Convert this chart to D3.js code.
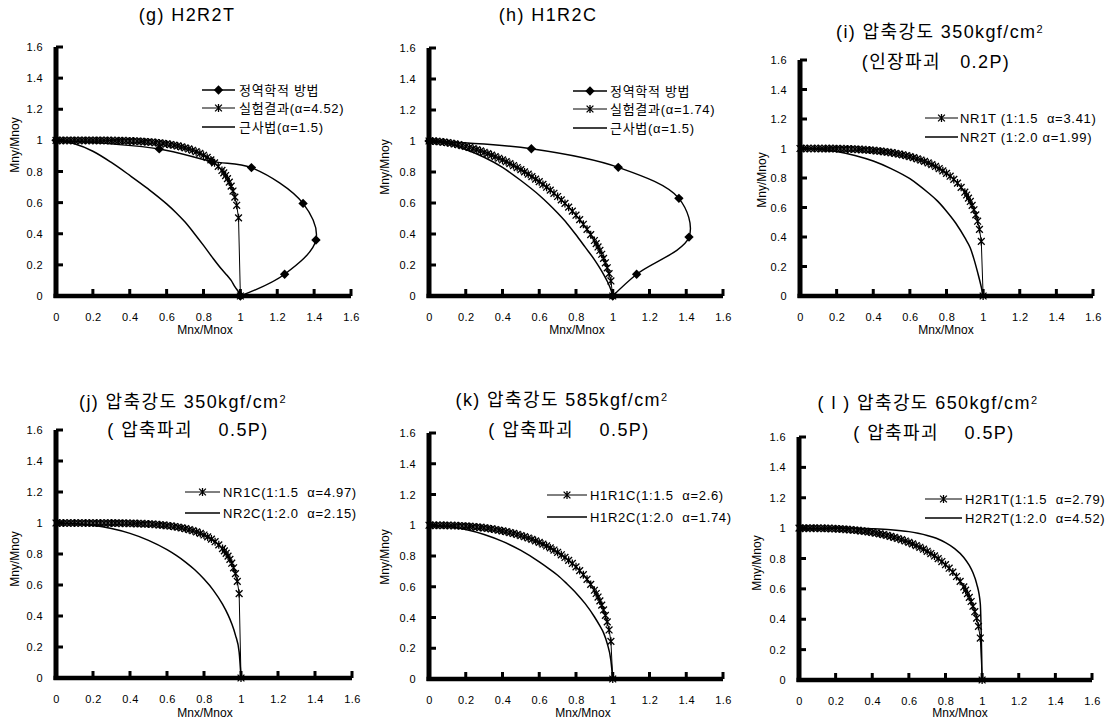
<!DOCTYPE html>
<html>
<head>
<meta charset="UTF-8">
<script src="https://d3js.org/d3.v7.min.js"></script>
<title>Mnx/Mnox - Mny/Mnoy</title>
<style>
body { margin: 0; background: #fff; }
text { font-family: "Liberation Sans", Arial, "Noto Sans CJK KR", sans-serif; fill: #000; }
.tick text { font-size: 11px; letter-spacing: 0.4px; }
.ttl { font-size: 18px; letter-spacing: 1.4px; }
.leg { font-size: 13px; letter-spacing: 0.7px; white-space: pre; }
.axt { font-size: 12px; }
</style>
</head>
<body>
<script>
// axis ticks, shared by every panel
const tickVals = [0, 0.2, 0.4, 0.6, 0.8, 1, 1.2, 1.4, 1.6];
const tickLabels = ["0", "0.2", "0.4", "0.6", "0.8", "1", "1.2", "1.4", "1.6"];

// x positions of the test points (x markers)
const xTest = [0,0.02,0.04,0.06,0.08,0.1,0.12,0.14,0.16,0.18,0.2,0.22,0.24,0.26,0.28,0.3,0.32,0.34,0.36,0.38,
  0.4,0.42,0.44,0.46,0.48,0.5,0.52,0.54,0.56,0.58,0.6,0.62,0.64,0.66,0.68,0.7,0.72,0.74,0.76,0.78,
  0.8,0.82,0.84,0.86,0.88,0.9,0.91,0.92,0.93,0.94,0.95,0.96,0.97,0.98,0.99,1];

const gTestY = [1,1,1,1,1,1,1,1,1,0.9999, 0.9998,0.9998,0.9997,0.9995,0.9993, 0.999,0.9987,0.9983,0.9978,0.9972,
  0.9965,0.9956,0.9945,0.9933,0.9919, 0.9902,0.9883,0.986,0.9834,0.9805, 0.9771,0.9733,0.9689,0.964,0.9584,
  0.952,0.9448,0.9366,0.9273,0.9166, 0.9045,0.8906,0.8744,0.8557,0.8334,
  0.8068,0.7912,0.7739,0.7543,0.7319,0.7057,0.6744,0.6353,0.583,0.5021, 0];
const hTestY = [1,0.9994,0.9979,0.9957,0.9929, 0.9895,0.9856,0.9811,0.9761,0.9706, 0.9646,0.9581,0.9511,0.9437,0.9357,
  0.9273,0.9184,0.909,0.8991,0.8887, 0.8777,0.8663,0.8543,0.8418,0.8287, 0.8151,0.8008,0.786,0.7705,0.7544,
  0.7376,0.7201,0.7018,0.6827,0.6628, 0.6419,0.6201,0.5972,0.5733,0.5478, 0.5211,0.4929,0.4627,0.4305,0.3959,
  0.3581,0.3378,0.3164,0.2937,0.2694,0.2431,0.2143,0.1821,0.1446,0.097, 0];
const iTestY = [1,1,1,1,1, 0.9999,0.9998,0.9996,0.9994,0.9992, 0.9988,0.9983,0.9977,0.997,0.9962,
  0.9951,0.9939,0.9925,0.9909,0.989, 0.9869,0.9845,0.9818,0.9787,0.9753, 0.9714,0.9672,0.9625,0.9572,0.9515,
  0.9451,0.9381,0.9303,0.9218,0.9124, 0.9021,0.8907,0.8781,0.8641,0.8486, 0.8314,0.8121,0.7903,0.7654,0.7368,
  0.7037,0.6848,0.6639,0.6408,0.6147,0.5848,0.5497,0.507,0.4518,0.37, 0];
const jTestY = [1,1,1,1,1,1,1,1,1,1, 0.9999,0.9999,0.9998,0.9997,0.9996, 0.9995,0.9993,0.999,0.9987,0.9984,
  0.9979,0.9973,0.9966,0.9957,0.9947, 0.9935,0.9921,0.9904,0.9885,0.9862, 0.9836,0.9806,0.9771,0.9731,0.9685,
  0.9632,0.9572,0.9503,0.9423,0.9332, 0.9226,0.9104,0.8961,0.8792,0.8591,
  0.8347,0.8205,0.8046,0.7864,0.7654,0.7407,0.711,0.6737,0.6234,0.5445, 0];
const kTestY = [1,1,0.9999,0.9997,0.9995, 0.999,0.9984,0.9977,0.9967,0.9955, 0.9941,0.9925,0.9905,0.9883,0.9858,
  0.983,0.9798,0.9763,0.9724,0.9681, 0.9634,0.9583,0.9527,0.9467,0.9401, 0.933,0.9254,0.9171,0.9082,0.8986,
  0.8883,0.8773,0.8654,0.8526,0.8388, 0.824,0.8079,0.7906,0.7719,0.7514, 0.7294,0.705,0.6783,0.6486,0.6152,
  0.5772,0.5561,0.5332,0.5081,0.4804,0.4492,0.4136,0.3714,0.3188,0.2449, 0];
const lTestY = [1,1,1,0.9999,0.9997, 0.9994,0.999,0.9985,0.9978,0.997, 0.996,0.9947,0.9933,0.9916,0.9896,
  0.9874,0.9849,0.9821,0.9789,0.9754, 0.9715,0.9672,0.9625,0.9573,0.9517, 0.9456,0.9389,0.9317,0.9238,0.9153,
  0.9061,0.8962,0.8854,0.8738,0.8612, 0.8475,0.8327,0.8167,0.7992,0.78, 0.7591,0.736,0.7103,0.6815,0.6495,
  0.6125,0.5918,0.5692,0.5444,0.5168,0.4857,0.4498,0.4071,0.3532,0.2764, 0];

// x positions of the plain lines
const xLine = [0,0.1,0.2,0.3,0.4,0.5,0.6,0.65,0.7,0.75,0.8,0.85,0.9,0.93,0.95,0.97,0.99,1];
const gApproxY = [1,0.978,0.93,0.858,0.775,0.688,0.592,0.537,0.475,0.402,0.325,0.245,0.17,0.13,0.1,0.06,0.025,0];
const hApproxY = [1,0.985,0.945,0.895,0.83,0.745,0.65,0.595,0.535,0.47,0.395,0.315,0.235,0.18,0.14,0.095,0.04,0];
const iLineY = [1,0.995,0.98,0.953,0.915,0.862,0.795,0.75,0.7,0.645,0.575,0.495,0.395,0.325,0.25,0.16,0.06,0];
const jLineY = [1,0.997,0.985,0.964,0.933,0.888,0.828,0.791,0.748,0.698,0.638,0.567,0.476,0.407,0.35,0.277,0.167,0];
const kLineY = [1,0.993,0.972,0.94,0.895,0.836,0.762,0.72,0.675,0.62,0.56,0.49,0.405,0.345,0.3,0.23,0.12,0];
const lLineY = [1,1,1,0.999,0.996,0.99,0.977,0.966,0.952,0.933,0.904,0.865,0.807,0.754,0.706,0.635,0.502,0];

// 정역학적 방법 (diamonds)
const gStaticX = [0, 0.56, 0.845, 1.06, 1.34, 1.41, 1.24, 1.0];
const gStaticY = [1, 0.945, 0.865, 0.825, 0.595, 0.36, 0.14, 0];
const hStaticX = [0, 0.557, 1.03, 1.36, 1.415, 1.13, 1.0];
const hStaticY = [1, 0.95, 0.83, 0.63, 0.38, 0.14, 0];

const zip = (xs, ys) => xs.map((v, i) => [v, ys[i]]);

// layout of each panel : box = [left, right, top, bottom]
const panels = [
  {box:[56,351,47,296], titles:[["(g) H2R2T", null, 187, 15]], yt:[15,145], xt:[205,330],
   leg:{x1:202, x2:235, tx:239, ys:[90,108,127]},
   series:[
     {kind:"diamond", data:zip(gStaticX, gStaticY), label:"정역학적 방법"},
     {kind:"star", data:zip(xTest, gTestY), label:"실험결과(α=4.52)"},
     {kind:"line", data:zip(xLine, gApproxY), label:"근사법(α=1.5)"}]},
  {box:[429,723,48,296], titles:[["(h) H1R2C", null, 548, 15]], yt:[385,167], xt:[577,330],
   leg:{x1:573, x2:607, tx:610, ys:[91,109,128]},
   series:[
     {kind:"diamond", data:zip(hStaticX, hStaticY), label:"정역학적 방법"},
     {kind:"star", data:zip(xTest, hTestY), label:"실험결과(α=1.74)"},
     {kind:"line", data:zip(xLine, hApproxY), label:"근사법(α=1.5)"}]},
  {box:[800,1093,60,296], titles:[["(i) 압축강도 350kgf/cm", "2", 940, 32], ["(인장파괴   0.2P)", null, 936, 62]],
   yt:[762,180], xt:[946,330],
   leg:{x1:925, x2:958, tx:960, ys:[118,137]},
   series:[
     {kind:"star", data:zip(xTest, iTestY), label:"NR1T (1:1.5  α=3.41)"},
     {kind:"line", data:zip(xLine, iLineY), label:"NR2T (1:2.0 α=1.99)"}]},
  {box:[56,352,430,678], titles:[["(j) 압축강도 350kgf/cm", "2", 183, 402], ["( 압축파괴    0.5P)", null, 188, 430]],
   yt:[15,559], xt:[205,713],
   leg:{x1:185, x2:220, tx:223, ys:[492,513]},
   series:[
     {kind:"star", data:zip(xTest, jTestY), label:"NR1C(1:1.5  α=4.97)"},
     {kind:"line", data:zip(xLine, jLineY), label:"NR2C(1:2.0  α=2.15)"}]},
  {box:[429,723,433,679], titles:[["(k) 압축강도 585kgf/cm", "2", 562, 400], ["( 압축파괴    0.5P)", null, 569, 430]],
   yt:[385,557], xt:[583,713],
   leg:{x1:547, x2:587, tx:590, ys:[495,517]},
   series:[
     {kind:"star", data:zip(xTest, kTestY), label:"H1R1C(1:1.5  α=2.6)"},
     {kind:"line", data:zip(xLine, kLineY), label:"H1R2C(1:2.0  α=1.74)"}]},
  {box:[799,1092,437,680], titles:[["( l ) 압축강도 650kgf/cm", "2", 928, 403], ["( 압축파괴    0.5P)", null, 934, 433]],
   yt:[757,563], xt:[960,713],
   leg:{x1:925, x2:962, tx:965, ys:[499,518]},
   series:[
     {kind:"star", data:zip(xTest, lTestY), label:"H2R1T(1:1.5  α=2.79)"},
     {kind:"line", data:zip(xLine, lLineY), label:"H2R2T(1:2.0  α=4.52)"}]}
];

const svg = d3.select("body").append("svg")
  .attr("width", 1105)
  .attr("height", 722);

const starPath = "M-3.4,-3.4L3.4,3.4M-3.4,3.4L3.4,-3.4M0,-4L0,4";
const diamondPath = d3.symbol(d3.symbolSquare, 44)();

function drawMarker(sel, kind) {
  if (kind == "star")
    sel.append("path").attr("d", starPath).attr("stroke", "#000").attr("stroke-width", 1.3).attr("fill", "none");
  else if (kind == "diamond")
    sel.append("path").attr("d", diamondPath).attr("transform", "rotate(45)").attr("fill", "#000");
}

panels.forEach(p => {
  const x = d3.scaleLinear().domain([0, 1.6]).range([p.box[0], p.box[1]]);
  const y = d3.scaleLinear().domain([0, 1.6]).range([p.box[3], p.box[2]]);
  const g = svg.append("g");

  // tick labels from d3 axes, the heavy axis frame drawn by hand
  const ax = g.append("g").attr("transform", "translate(0," + p.box[3] + ")")
    .call(d3.axisBottom(x).tickValues(tickVals).tickFormat((d, i) => tickLabels[i])
      .tickSize(0).tickPadding(17));
  const ay = g.append("g").attr("transform", "translate(" + p.box[0] + ",0)")
    .call(d3.axisLeft(y).tickValues(tickVals).tickFormat((d, i) => tickLabels[i])
      .tickSize(0).tickPadding(13));
  [ax, ay].forEach(a => {
    a.select(".domain").remove();
    a.selectAll(".tick line").remove();
    a.selectAll(".tick text").attr("font-family", null).attr("font-size", null);
  });

  const frame = g.append("g").attr("stroke", "#000");
  frame.append("line").attr("x1", x(0)).attr("x2", x(0)).attr("y1", y(0) + 2).attr("y2", y(1.6))
    .attr("stroke-width", 5);
  frame.append("line").attr("x1", x(0) - 2.5).attr("x2", x(1.6)).attr("y1", y(0)).attr("y2", y(0))
    .attr("stroke-width", 4.5);
  frame.selectAll(null).data(tickVals.slice(1)).enter().append("line")
    .attr("x1", d => x(d)).attr("x2", d => x(d)).attr("y1", y(0)).attr("y2", y(0) - 7)
    .attr("stroke-width", 3);
  frame.selectAll(null).data(tickVals.slice(1)).enter().append("line")
    .attr("x1", x(0)).attr("x2", x(0) + 7).attr("y1", d => y(d)).attr("y2", d => y(d))
    .attr("stroke-width", 3);

  // curves
  p.series.forEach(s => {
    let curve = d3.curveLinear, w = 1;
    if (s.kind == "diamond") { curve = d3.curveCatmullRom; w = 1.4; }
    if (s.kind == "line") { curve = d3.curveMonotoneX; w = 1.5; }
    const line = d3.line().x(d => x(d[0])).y(d => y(d[1])).curve(curve);
    g.append("path").datum(s.data).attr("d", line)
      .attr("fill", "none").attr("stroke", "#000").attr("stroke-width", w);
    if (s.kind != "line") {
      const m = g.selectAll(null).data(s.data).enter().append("g")
        .attr("transform", d => "translate(" + x(d[0]) + "," + y(d[1]) + ")");
      drawMarker(m, s.kind);
    }
  });

  // legend
  p.series.forEach((s, i) => {
    const ly = p.leg.ys[i];
    g.append("line").attr("x1", p.leg.x1).attr("x2", p.leg.x2).attr("y1", ly).attr("y2", ly)
      .attr("stroke", "#000").attr("stroke-width", s.kind == "star" ? 1 : 1.5);
    const m = g.append("g").attr("transform", "translate(" + ((p.leg.x1 + p.leg.x2) / 2) + "," + ly + ")");
    drawMarker(m, s.kind);
    g.append("text").attr("class", "leg").attr("x", p.leg.tx).attr("y", ly).attr("dy", "0.35em").text(s.label);
  });

  // titles
  p.titles.forEach(t => {
    const tt = g.append("text").attr("class", "ttl").attr("x", t[2]).attr("y", t[3])
      .attr("dy", "0.35em").attr("text-anchor", "middle").style("white-space", "pre");
    tt.append("tspan").text(t[0]);
    if (t[1]) tt.append("tspan").attr("dy", "-0.45em").attr("font-size", "11px").text(t[1]);
  });

  // axis titles
  g.append("text").attr("class", "axt").attr("x", p.xt[0]).attr("y", p.xt[1])
    .attr("dy", "0.35em").attr("text-anchor", "middle").text("Mnx/Mnox");
  g.append("text").attr("class", "axt").attr("text-anchor", "middle")
    .attr("transform", "translate(" + p.yt[0] + "," + p.yt[1] + ") rotate(-90)")
    .attr("dy", "0.35em").text("Mny/Mnoy");
});
</script>
</body>
</html>
